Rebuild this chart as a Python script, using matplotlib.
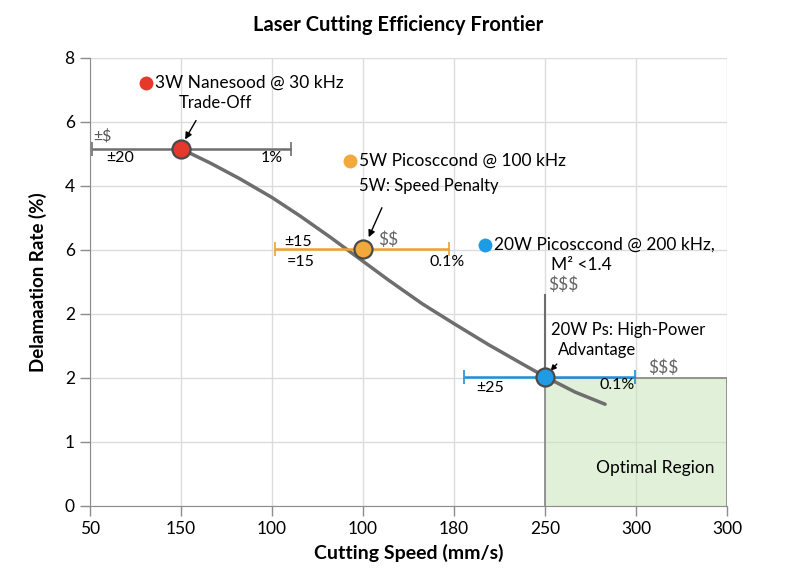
import matplotlib.pyplot as plt
import numpy as np
from matplotlib.patches import Rectangle

plt.rcParams['font.family'] = ['Lato', 'DejaVu Sans']

# tick labels as printed on the chart (evenly spaced positions)
x_tick_labels = ["50", "150", "100", "100", "180", "250", "300", "300"]
y_tick_labels = ["0", "1", "2", "2", "6", "4", "6", "8"]

# lasers
laser_names = ["3W Nanesood @ 30 kHz", "5W Picosccond @ 100 kHz", "20W Picosccond @ 200 kHz,"]
laser_speed = [1.0, 3.0, 5.0]
laser_delam = [5.58, 4.02, 2.02]
err_left = [0.98, 0.97, 0.89]
err_right = [1.21, 0.94, 0.99]
laser_colors = ["#e53a2b", "#f2a93b", "#1f9be6"]
bar_colors = ["#6e6e6e", "#f0a030", "#1f8fd6"]

# vertical cost bar on the 20W point
vert_err_up = 1.28

# frontier curve
curve_x = [1.0, 1.32, 1.65, 2.0, 2.31, 2.64, 2.86, 3.28, 3.65, 4.01, 4.38, 4.75, 5.0, 5.33, 5.66]
curve_y = [5.58, 5.36, 5.11, 4.82, 4.53, 4.20, 3.97, 3.53, 3.16, 2.84, 2.52, 2.22, 2.02, 1.78, 1.59]

# optimal region
opt_x0, opt_x1 = 5.0, 7.0
opt_y0, opt_y1 = 0.0, 2.0

fig = plt.figure(figsize=(8, 5.84), dpi=100)
ax = fig.add_axes([0.1125, 0.1336, 0.7963, 0.7671])

ax.set_xlim(0, 7)
ax.set_ylim(0, 7)
ax.set_xticks(np.arange(len(x_tick_labels)))
ax.set_xticklabels(x_tick_labels, fontsize=12.5)
ax.set_yticks(np.arange(len(y_tick_labels)))
ax.set_yticklabels(y_tick_labels, fontsize=12.5)
ax.tick_params(direction='out', length=7, color='#8c8c8c', width=1, pad=4)
ax.grid(True, color='#dcdcdc', linewidth=1)
ax.set_axisbelow(True)
for s in ['top', 'right']:
    ax.spines[s].set_visible(False)
for s in ['left', 'bottom']:
    ax.spines[s].set_color('#8c8c8c')

ax.add_patch(Rectangle((opt_x0, opt_y0), opt_x1 - opt_x0, opt_y1 - opt_y0,
                       facecolor='#c9e4b8', alpha=0.55, edgecolor='none', zorder=1))
ax.plot([opt_x0, opt_x0, opt_x1, opt_x1], [opt_y0, opt_y1, opt_y1, opt_y0],
        color='#8c8c8c', lw=1.3, zorder=2)
ax.plot([laser_speed[2], laser_speed[2]], [laser_delam[2], laser_delam[2] + vert_err_up],
        color='#6e6e6e', lw=1.5, zorder=2)

ax.plot(curve_x, curve_y, color='#6e6e6e', lw=2.5, zorder=3,
        solid_joinstyle='round', solid_capstyle='round')

for i in range(3):
    ax.errorbar(laser_speed[i], laser_delam[i], xerr=[[err_left[i]], [err_right[i]]],
                fmt='none', ecolor=bar_colors[i], elinewidth=1.8, capsize=5,
                capthick=1.2, zorder=3)
    ax.plot(laser_speed[i], laser_delam[i], 'o', ms=13, color=laser_colors[i],
            mec='#4a4a4a', mew=1.6, zorder=5)

# legend-like labels
leg_pos = [(0.61, 6.61), (2.86, 5.39), (4.34, 4.08)]
for i, (lx, ly) in enumerate(leg_pos):
    ax.plot(lx, ly, 'o', ms=10, color=laser_colors[i], mec='none', zorder=5)
    ax.text(lx + 0.1, ly, laser_names[i], fontsize=12.5, va='center', ha='left')
ax.text(5.40, 3.77, "M² <1.4", fontsize=12.5, ha='center', va='center')

# annotations
ax.annotate("", xy=(1.03, 5.69), xytext=(1.18, 6.06),
            arrowprops=dict(arrowstyle='-|>', color='black', lw=1, mutation_scale=10))
ax.text(1.38, 6.30, "Trade-Off", fontsize=12, ha='center', va='center')
ax.annotate("", xy=(3.05, 4.16), xytext=(3.22, 4.70),
            arrowprops=dict(arrowstyle='-|>', color='black', lw=1, mutation_scale=10))
ax.text(3.72, 5.0, "5W: Speed Penalty", fontsize=12, ha='center', va='center')
ax.annotate("", xy=(5.04, 2.08), xytext=(5.15, 2.25),
            arrowprops=dict(arrowstyle='-|>', color='black', lw=1, mutation_scale=8))
ax.text(5.07, 2.75, "20W Ps: High-Power", fontsize=12, ha='left', va='center')
ax.text(5.14, 2.44, "Advantage", fontsize=12, ha='left', va='center')

small = dict(fontsize=11.5, ha='center', va='center')
ax.text(0.14, 5.77, r"±\$", color='#555555', **small)
ax.text(0.33, 5.44, "±20", **small)
ax.text(2.0, 5.44, "1%", **small)
ax.text(2.29, 4.13, "±15", **small)
ax.text(2.31, 3.81, "=15", **small)
ax.text(3.28, 4.16, r"\$\$", color='#666666', fontsize=12.5, ha='center', va='center')
ax.text(3.92, 3.81, "0.1%", **small)
ax.text(5.2, 3.45, r"\$\$\$", color='#666666', fontsize=12.5, ha='center', va='center')
ax.text(4.40, 1.84, "±25", **small)
ax.text(5.79, 1.89, "0.1%", **small)
ax.text(6.30, 2.16, r"\$\$\$", color='#666666', fontsize=12.5, ha='center', va='center')
ax.text(6.21, 0.59, "Optimal Region", fontsize=12.5, ha='center', va='center')

ax.set_xlabel("Cutting Speed (mm/s)", fontsize=14, fontweight='bold', labelpad=5)
ax.set_ylabel("Delamaation Rate (%)", fontsize=13.5, fontweight='bold', labelpad=13)
fig.suptitle("Laser Cutting Efficiency Frontier", x=0.498, y=0.975, fontsize=14.5,
             fontweight='bold')

fig.savefig("out.png", dpi=100)
